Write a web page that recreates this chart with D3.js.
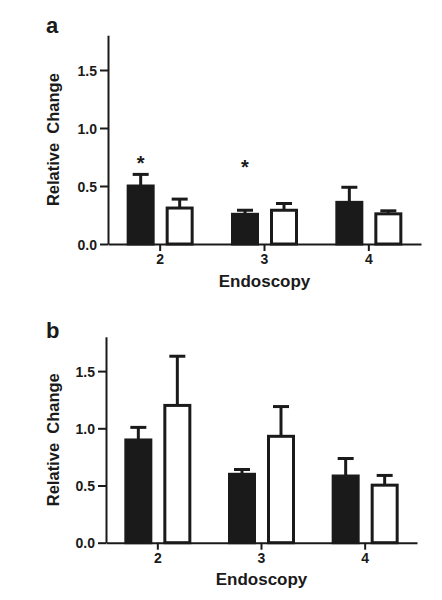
<!DOCTYPE html>
<html>
<head>
<meta charset="utf-8">
<script src="https://cdn.jsdelivr.net/npm/d3@7"></script>
<style>
  html, body { margin: 0; padding: 0; background: #fff; }
  svg { display: block; }
  text { font-family: "Liberation Sans", Arial, Helvetica, sans-serif; font-weight: bold; fill: #1a1a1a; }
</style>
</head>
<body>
<svg id="chart" width="442" height="600"></svg>
<script>
// ---------- data ----------
const categories = ["2", "3", "4"];
const seriesNames = ["filled", "open"];
const yTicks = [0, 0.5, 1.0, 1.5];
const yMax = 1.8;

// Panel a
const aFilledMean = [0.50, 0.256, 0.359];
const aFilledErr  = [0.10, 0.035, 0.13];
const aOpenMean   = [0.31, 0.291, 0.26];
const aOpenErr    = [0.077, 0.058, 0.026];
const aStars      = [{ cat: "2", s: 0, y: 0.73 }, { cat: "3", s: 0, y: 0.70 }];

// Panel b
const bFilledMean = [0.898, 0.598, 0.583];
const bFilledErr  = [0.11, 0.042, 0.153];
const bOpenMean   = [1.20, 0.93, 0.503];
const bOpenErr    = [0.43, 0.26, 0.085];
const bStars      = [];

// ---------- drawing ----------
const svg = d3.select("#chart");
const ink = "#1a1a1a";

function panel(cfg) {
  const g = svg.append("g");
  const x = d3.scaleBand().domain(categories).range([cfg.left, cfg.right]).padding(0);
  const xs = d3.scaleBand().domain(seriesNames).range([-33.5, 33.5]).paddingInner(0.282).paddingOuter(0);
  const y = d3.scaleLinear().domain([0, yMax]).range([cfg.bottom, cfg.bottom - yMax * cfg.unit]);

  const rows = [];
  categories.forEach((c, i) => {
    rows.push({ cat: c, s: "filled", mean: cfg.filled[i], err: cfg.filledErr[i] });
    rows.push({ cat: c, s: "open", mean: cfg.open[i], err: cfg.openErr[i] });
  });
  const cx = d => x(d.cat) + x.bandwidth() / 2;

  // error bars (behind bars)
  const eb = g.append("g");
  eb.selectAll("line.v").data(rows).join("line")
    .attr("x1", d => cx(d) + xs(d.s) + xs.bandwidth() / 2)
    .attr("x2", d => cx(d) + xs(d.s) + xs.bandwidth() / 2)
    .attr("y1", d => y(d.mean)).attr("y2", d => y(d.mean + d.err))
    .attr("stroke", ink).attr("stroke-width", 3);
  eb.selectAll("line.c").data(rows).join("line")
    .attr("x1", d => cx(d) + xs(d.s) + xs.bandwidth() / 2 - 8)
    .attr("x2", d => cx(d) + xs(d.s) + xs.bandwidth() / 2 + 8)
    .attr("y1", d => y(d.mean + d.err)).attr("y2", d => y(d.mean + d.err))
    .attr("stroke", ink).attr("stroke-width", 3);

  // bars
  g.append("g").selectAll("rect").data(rows).join("rect")
    .attr("x", d => cx(d) + xs(d.s) + 1.5)
    .attr("width", xs.bandwidth() - 3)
    .attr("y", d => y(d.mean))
    .attr("height", d => y(0) - y(d.mean))
    .attr("fill", d => d.s === "filled" ? ink : "#fff")
    .attr("stroke", ink).attr("stroke-width", 3);

  // stars
  g.append("g").selectAll("text").data(cfg.stars).join("text")
    .attr("x", d => x(d.cat) + x.bandwidth() / 2 + xs(seriesNames[d.s]) + xs.bandwidth() / 2)
    .attr("y", d => y(d.y) + 11)
    .attr("text-anchor", "middle")
    .style("font-size", "20px")
    .text("*");

  // axes
  const yAxis = d3.axisLeft(y).tickValues(yTicks).tickFormat(d3.format(".1f")).tickSize(8).tickSizeOuter(0).tickPadding(3);
  const ya = g.append("g").attr("transform", `translate(${cfg.left},0)`).call(yAxis);
  const xAxis = d3.axisBottom(x).tickSize(7).tickSizeOuter(0).tickPadding(3);
  const xa = g.append("g").attr("transform", `translate(0,${cfg.bottom})`).call(xAxis);
  [ya, xa].forEach(a => {
    a.attr("font-size", null).attr("font-family", null);
    a.select(".domain").attr("stroke", ink).attr("stroke-width", 2);
    a.selectAll(".tick line").attr("stroke", ink).attr("stroke-width", 2);
    a.selectAll(".tick text").attr("fill", ink).style("font-size", "14px")
      .style("font-family", '"Liberation Sans", Arial, sans-serif').style("font-weight", "bold");
  });
  ya.selectAll(".tick text").attr("dy", "0.36em");

  // axis titles
  g.append("text")
    .attr("x", (cfg.left + cfg.right) / 2).attr("y", cfg.bottom + 42.5)
    .attr("text-anchor", "middle").style("font-size", "17px")
    .text("Endoscopy");
  g.append("text")
    .attr("transform", `translate(58.5,${(y(0) + y(yMax)) / 2}) rotate(-90)`)
    .attr("text-anchor", "middle").style("font-size", "16.5px")
    .attr("xml:space", "preserve").style("white-space", "pre")
    .text("Relative  Change");

  // panel letter
  g.append("text").attr("x", 46).attr("y", cfg.letterY)
    .style("font-size", "22px").text(cfg.letter);
}

panel({ left: 108, right: 421, bottom: 244, unit: 116,
  filled: aFilledMean, filledErr: aFilledErr, open: aOpenMean, openErr: aOpenErr,
  stars: aStars, letter: "a", letterY: 33 });
panel({ left: 106, right: 417, bottom: 542.7, unit: 114.4,
  filled: bFilledMean, filledErr: bFilledErr, open: bOpenMean, openErr: bOpenErr,
  stars: bStars, letter: "b", letterY: 338 });
</script>
</body>
</html>
